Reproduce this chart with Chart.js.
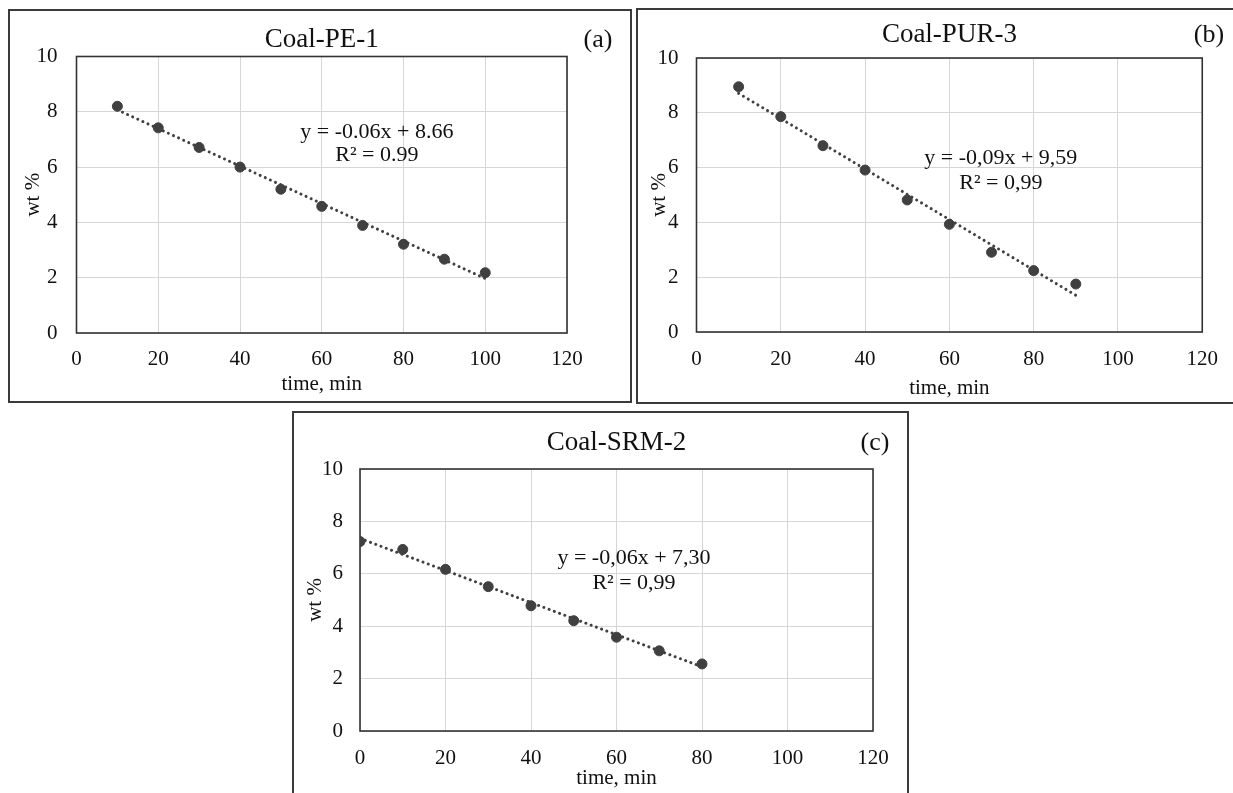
<!DOCTYPE html>
<html><head><meta charset="utf-8">
<script src="https://cdn.jsdelivr.net/npm/chart.js@4/dist/chart.umd.min.js"></script>
<style>
html,body{margin:0;padding:0;background:#fff;}
body{width:1233px;height:793px;position:relative;overflow:hidden;}
.box{position:absolute;border:2px solid #3a3a3a;box-sizing:border-box;pointer-events:none;}
canvas{position:absolute;}
</style></head><body>
<canvas id="ca" width="624" height="394" style="left:8px;top:9px"></canvas>
<canvas id="cb" width="597" height="396" style="left:636px;top:8px"></canvas>
<canvas id="cc" width="617" height="382" style="left:292px;top:411px"></canvas>
<div class="box" style="left:8px;top:9px;width:624px;height:394px"></div>
<div class="box" style="left:636px;top:8px;width:600px;height:396px"></div>
<div class="box" style="left:292px;top:411px;width:617px;height:390px"></div>
<script>
// ---- data ----
const xTickValues = [0, 20, 40, 60, 80, 100, 120];
const yTickValues = [0, 2, 4, 6, 8, 10];

const timeA = [10, 20, 30, 40, 50, 60, 70, 80, 90, 100];
const wtA = [8.2, 7.42, 6.71, 6.0, 5.2, 4.58, 3.89, 3.21, 2.67, 2.18];
const trendTimeA = [10, 100];
const trendWtA = [8.07, 1.97];

const timeB = [10, 20, 30, 40, 50, 60, 70, 80, 90];
const wtB = [8.95, 7.86, 6.8, 5.91, 4.82, 3.93, 2.91, 2.24, 1.75];
const trendTimeB = [10, 90];
const trendWtB = [8.71, 1.34];

const timeC = [0, 10, 20, 30, 40, 50, 60, 70, 80];
const wtC = [7.23, 6.93, 6.17, 5.51, 4.78, 4.21, 3.58, 3.06, 2.56];
const trendTimeC = [0, 80];
const trendWtC = [7.35, 2.45];

const titles = ['Coal-PE-1', 'Coal-PUR-3', 'Coal-SRM-2'];
const tags = ['(a)', '(b)', '(c)'];
const equations = [
  ['y = -0.06x + 8.66', 'R\u00B2 = 0.99'],
  ['y = -0,09x + 9,59', 'R\u00B2 = 0,99'],
  ['y = -0,06x + 7,30', 'R\u00B2 = 0,99']
];
// ---- end data ----

const FAM = "'Liberation Serif', 'DejaVu Serif', serif";
const INK = '#404040';
Chart.defaults.font.family = FAM;
Chart.defaults.color = '#111';

const decor = {
  id: 'decor',
  beforeDatasetsDraw(chart, args, o) {
    const {ctx, chartArea: a} = chart;
    ctx.save();
    ctx.strokeStyle = '#333';
    ctx.lineWidth = 1.6;
    ctx.strokeRect(a.left, a.top, a.right - a.left, a.bottom - a.top);
    ctx.restore();
  },
  afterDatasetsDraw(chart, args, o) {
    const {ctx, scales: {x, y}} = chart;
    ctx.save();
    ctx.fillStyle = '#111';
    ctx.textAlign = 'center';
    ctx.textBaseline = 'middle';
    ctx.font = o.eqSize + 'px ' + FAM;
    o.eq.forEach((t, i) => ctx.fillText(t, x.getPixelForValue(o.eqX), y.getPixelForValue(o.eqY[i])));
    ctx.font = '26px ' + FAM;
    ctx.fillText(o.tag, o.tagX, o.tagY);
    ctx.restore();
  }
};

function makeChart(id, p) {
  const pts = p.xs.map((v, i) => ({x: v, y: p.ys[i]}));
  const tr = p.tx.map((v, i) => ({x: v, y: p.ty[i]}));
  new Chart(document.getElementById(id), {
    type: 'scatter',
    data: {
      datasets: [
        {data: pts, backgroundColor: INK, borderColor: INK, pointRadius: 5, pointHoverRadius: 5, order: 1},
        {type: 'line', data: tr, showLine: true, borderColor: INK, borderWidth: 3, borderDash: [0.01, 5.6],
         borderCapStyle: 'round', pointRadius: 0, fill: false, order: 2}
      ]
    },
    options: {
      responsive: false,
      animation: false,
      events: [],
      layout: {padding: {left: 0, right: p.padR, top: 0, bottom: 0}},
      plugins: {
        legend: {display: false},
        tooltip: {enabled: false},
        title: {display: true, text: p.title, fullSize: false, color: '#111',
                font: {size: 27, family: FAM, weight: 'normal', lineHeight: 1.2},
                padding: {top: p.tPadTop, bottom: p.tPadBot}},
        decor: {eq: p.eq, eqX: p.eqX, eqY: p.eqY, eqSize: 22, tag: p.tag, tagX: p.tagX, tagY: p.tagY}
      },
      scales: {
        x: {
          type: 'linear', min: 0, max: 120,
          afterBuildTicks: s => { s.ticks = xTickValues.map(v => ({value: v})); },
          afterFit: s => { s.height = p.xH; },
          grid: {color: '#d6d6d6', lineWidth: 1, drawTicks: false},
          border: {display: false},
          ticks: {padding: p.xPad, color: '#111', font: {size: 21, family: FAM}},
          title: {display: true, text: 'time, min', color: '#111', font: {size: 21, family: FAM, lineHeight: 1.2},
                  padding: {top: 0, bottom: p.xtPad}}
        },
        y: {
          type: 'linear', min: 0, max: 10,
          afterBuildTicks: s => { s.ticks = yTickValues.map(v => ({value: v})); },
          afterFit: s => { s.width = p.yW; },
          grid: {color: '#d6d6d6', lineWidth: 1, drawTicks: false},
          border: {display: false},
          ticks: {padding: p.yPad, color: '#111', font: {size: 21, family: FAM}},
          title: {display: true, text: 'wt %', color: '#111', font: {size: 21, family: FAM, lineHeight: 1.2},
                  padding: {top: p.ytPad, bottom: 0}}
        }
      }
    },
    plugins: [decor]
  });
}

makeChart('ca', {xs: timeA, ys: wtA, tx: trendTimeA, ty: trendWtA, title: titles[0], tag: tags[0], eq: equations[0],
  eqX: 73.5, eqY: [7.27, 6.44], tagX: 590, tagY: 31,
  padR: 65, tPadTop: 14.8, tPadBot: 0.3, xH: 70, xPad: 14, xtPad: 6.4, yW: 68.5, yPad: 19, ytPad: 12.4});
makeChart('cb', {xs: timeB, ys: wtB, tx: trendTimeB, ty: trendWtB, title: titles[1], tag: tags[1], eq: equations[1],
  eqX: 72.2, eqY: [6.35, 5.44], tagX: 573, tagY: 27,
  padR: 27, tPadTop: 10.8, tPadBot: 6.8, xH: 72, xPad: 15, xtPad: 3.4, yW: 60.5, yPad: 18, ytPad: 10.4});
makeChart('cc', {xs: timeC, ys: wtC, tx: trendTimeC, ty: trendWtC, title: titles[2], tag: tags[2], eq: equations[2],
  eqX: 64.1, eqY: [6.6, 5.65], tagX: 583, tagY: 32,
  padR: 36, tPadTop: 15.8, tPadBot: 9.8, xH: 62, xPad: 15, xtPad: 2.4, yW: 68, yPad: 17, ytPad: 10.4});
</script>
</body></html>
